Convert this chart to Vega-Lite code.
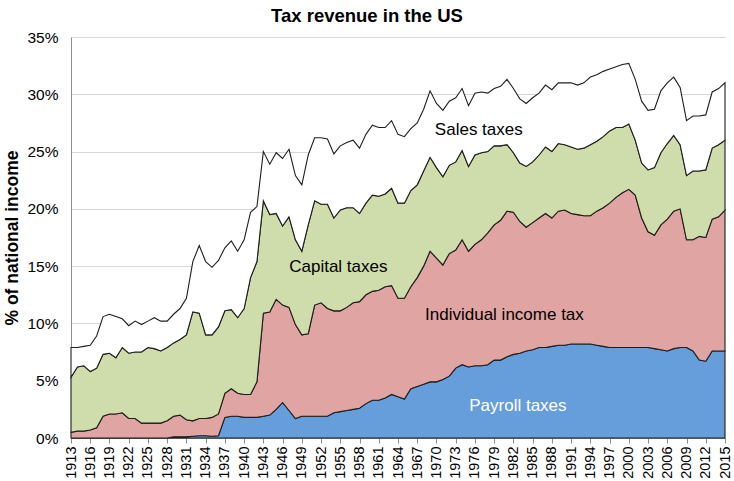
{
  "$schema": "https://vega.github.io/schema/vega-lite/v6.json",
  "width": 654,
  "height": 401,
  "autosize": {"type": "none"},
  "padding": {"left": 71, "top": 37, "right": 9, "bottom": 43},
  "background": "white",
  "config": {
    "view": {"stroke": null},
    "font": "Liberation Sans"
  },
  "title": {
    "text": "Tax revenue in the US",
    "fontSize": 18.5,
    "fontWeight": "bold",
    "font": "Liberation Sans",
    "anchor": "middle",
    "dx": -31,
    "offset": 5,
    "color": "black"
  },
  "datasets": {
    "taxes": [
      {"year":1913,"payroll":0,"income":0.5,"capital":4.8,"sales":2.6},
      {"year":1914,"payroll":0,"income":0.6,"capital":5.6,"sales":1.7},
      {"year":1915,"payroll":0,"income":0.6,"capital":5.7,"sales":1.7},
      {"year":1916,"payroll":0,"income":0.7,"capital":5.1,"sales":2.3},
      {"year":1917,"payroll":0,"income":0.9,"capital":5.2,"sales":2.8},
      {"year":1918,"payroll":0,"income":1.9,"capital":5.4,"sales":3.3},
      {"year":1919,"payroll":0,"income":2.1,"capital":5.3,"sales":3.4},
      {"year":1920,"payroll":0,"income":2.1,"capital":4.9,"sales":3.6},
      {"year":1921,"payroll":0,"income":2.2,"capital":5.7,"sales":2.5},
      {"year":1922,"payroll":0,"income":1.7,"capital":5.7,"sales":2.4},
      {"year":1923,"payroll":0,"income":1.7,"capital":5.8,"sales":2.7},
      {"year":1924,"payroll":0,"income":1.3,"capital":6.2,"sales":2.4},
      {"year":1925,"payroll":0,"income":1.3,"capital":6.6,"sales":2.3},
      {"year":1926,"payroll":0,"income":1.3,"capital":6.5,"sales":2.7},
      {"year":1927,"payroll":0,"income":1.3,"capital":6.3,"sales":2.6},
      {"year":1928,"payroll":0,"income":1.5,"capital":6.4,"sales":2.3},
      {"year":1929,"payroll":0.1,"income":1.8,"capital":6.4,"sales":2.5},
      {"year":1930,"payroll":0.1,"income":1.9,"capital":6.6,"sales":2.7},
      {"year":1931,"payroll":0.1,"income":1.5,"capital":7.4,"sales":3.2},
      {"year":1932,"payroll":0.15,"income":1.35,"capital":9.5,"sales":4.4},
      {"year":1933,"payroll":0.2,"income":1.5,"capital":9.2,"sales":5.9},
      {"year":1934,"payroll":0.2,"income":1.5,"capital":7.3,"sales":6.4},
      {"year":1935,"payroll":0.15,"income":1.65,"capital":7.2,"sales":5.9},
      {"year":1936,"payroll":0.2,"income":1.9,"capital":7.6,"sales":5.8},
      {"year":1937,"payroll":1.8,"income":2.1,"capital":7.2,"sales":5.5},
      {"year":1938,"payroll":1.9,"income":2.4,"capital":6.9,"sales":6.0},
      {"year":1939,"payroll":1.9,"income":2.0,"capital":6.6,"sales":5.8},
      {"year":1940,"payroll":1.8,"income":2.0,"capital":7.5,"sales":6.0},
      {"year":1941,"payroll":1.8,"income":2.0,"capital":10.2,"sales":5.7},
      {"year":1942,"payroll":1.8,"income":3.1,"capital":10.5,"sales":4.8},
      {"year":1943,"payroll":1.9,"income":9.0,"capital":9.8,"sales":4.3},
      {"year":1944,"payroll":2.0,"income":9.0,"capital":8.5,"sales":4.4},
      {"year":1945,"payroll":2.5,"income":9.6,"capital":7.5,"sales":5.3},
      {"year":1946,"payroll":3.1,"income":8.5,"capital":6.9,"sales":5.9},
      {"year":1947,"payroll":2.4,"income":9.0,"capital":7.9,"sales":5.9},
      {"year":1948,"payroll":1.7,"income":8.2,"capital":7.4,"sales":5.6},
      {"year":1949,"payroll":1.9,"income":7.1,"capital":7.3,"sales":5.8},
      {"year":1950,"payroll":1.9,"income":7.2,"capital":9.5,"sales":6.1},
      {"year":1951,"payroll":1.9,"income":9.7,"capital":9.1,"sales":5.5},
      {"year":1952,"payroll":1.9,"income":9.9,"capital":8.6,"sales":5.8},
      {"year":1953,"payroll":1.9,"income":9.4,"capital":9.1,"sales":5.7},
      {"year":1954,"payroll":2.2,"income":8.9,"capital":8.1,"sales":5.6},
      {"year":1955,"payroll":2.3,"income":8.8,"capital":8.8,"sales":5.6},
      {"year":1956,"payroll":2.4,"income":9.0,"capital":8.7,"sales":5.7},
      {"year":1957,"payroll":2.5,"income":9.3,"capital":8.3,"sales":5.9},
      {"year":1958,"payroll":2.6,"income":9.3,"capital":7.7,"sales":5.7},
      {"year":1959,"payroll":3.0,"income":9.5,"capital":8.0,"sales":6.0},
      {"year":1960,"payroll":3.3,"income":9.5,"capital":8.4,"sales":6.1},
      {"year":1961,"payroll":3.3,"income":9.6,"capital":8.2,"sales":6.0},
      {"year":1962,"payroll":3.5,"income":9.7,"capital":8.1,"sales":5.8},
      {"year":1963,"payroll":3.8,"income":9.5,"capital":8.5,"sales":5.9},
      {"year":1964,"payroll":3.6,"income":8.6,"capital":8.3,"sales":6.0},
      {"year":1965,"payroll":3.4,"income":8.8,"capital":8.3,"sales":5.8},
      {"year":1966,"payroll":4.3,"income":8.9,"capital":8.4,"sales":5.4},
      {"year":1967,"payroll":4.5,"income":9.5,"capital":8.1,"sales":5.4},
      {"year":1968,"payroll":4.7,"income":10.3,"capital":8.3,"sales":5.4},
      {"year":1969,"payroll":4.9,"income":11.4,"capital":8.2,"sales":5.8},
      {"year":1970,"payroll":4.9,"income":10.8,"capital":7.9,"sales":5.6},
      {"year":1971,"payroll":5.1,"income":10.0,"capital":7.7,"sales":5.8},
      {"year":1972,"payroll":5.4,"income":10.7,"capital":7.7,"sales":5.6},
      {"year":1973,"payroll":6.1,"income":10.3,"capital":7.7,"sales":5.6},
      {"year":1974,"payroll":6.4,"income":10.9,"capital":7.8,"sales":5.4},
      {"year":1975,"payroll":6.2,"income":10.1,"capital":7.4,"sales":5.3},
      {"year":1976,"payroll":6.3,"income":10.6,"capital":7.8,"sales":5.4},
      {"year":1977,"payroll":6.3,"income":11.0,"capital":7.6,"sales":5.3},
      {"year":1978,"payroll":6.4,"income":11.5,"capital":7.1,"sales":5.1},
      {"year":1979,"payroll":6.8,"income":11.8,"capital":6.9,"sales":5.0},
      {"year":1980,"payroll":6.8,"income":12.2,"capital":6.5,"sales":5.2},
      {"year":1981,"payroll":7.1,"income":12.7,"capital":5.8,"sales":5.7},
      {"year":1982,"payroll":7.3,"income":12.4,"capital":5.2,"sales":5.6},
      {"year":1983,"payroll":7.4,"income":11.5,"capital":5.1,"sales":5.6},
      {"year":1984,"payroll":7.6,"income":10.8,"capital":5.3,"sales":5.5},
      {"year":1985,"payroll":7.7,"income":11.1,"capital":5.3,"sales":5.6},
      {"year":1986,"payroll":7.9,"income":11.3,"capital":5.5,"sales":5.4},
      {"year":1987,"payroll":7.9,"income":11.7,"capital":5.8,"sales":5.4},
      {"year":1988,"payroll":8.0,"income":11.2,"capital":5.8,"sales":5.4},
      {"year":1989,"payroll":8.1,"income":11.7,"capital":5.9,"sales":5.3},
      {"year":1990,"payroll":8.1,"income":11.8,"capital":5.7,"sales":5.4},
      {"year":1991,"payroll":8.2,"income":11.4,"capital":5.8,"sales":5.6},
      {"year":1992,"payroll":8.2,"income":11.3,"capital":5.7,"sales":5.6},
      {"year":1993,"payroll":8.2,"income":11.2,"capital":5.9,"sales":5.7},
      {"year":1994,"payroll":8.2,"income":11.2,"capital":6.2,"sales":5.9},
      {"year":1995,"payroll":8.1,"income":11.7,"capital":6.1,"sales":5.8},
      {"year":1996,"payroll":8.0,"income":12.1,"capital":6.2,"sales":5.7},
      {"year":1997,"payroll":7.9,"income":12.6,"capital":6.3,"sales":5.4},
      {"year":1998,"payroll":7.9,"income":13.1,"capital":6.1,"sales":5.3},
      {"year":1999,"payroll":7.9,"income":13.5,"capital":5.7,"sales":5.5},
      {"year":2000,"payroll":7.9,"income":13.8,"capital":5.7,"sales":5.3},
      {"year":2001,"payroll":7.9,"income":13.3,"capital":4.8,"sales":5.3},
      {"year":2002,"payroll":7.9,"income":11.3,"capital":4.8,"sales":5.4},
      {"year":2003,"payroll":7.9,"income":10.1,"capital":5.4,"sales":5.2},
      {"year":2004,"payroll":7.8,"income":9.9,"capital":5.9,"sales":5.1},
      {"year":2005,"payroll":7.7,"income":10.9,"capital":6.3,"sales":5.4},
      {"year":2006,"payroll":7.6,"income":11.5,"capital":6.6,"sales":5.3},
      {"year":2007,"payroll":7.8,"income":12.0,"capital":6.6,"sales":5.1},
      {"year":2008,"payroll":7.9,"income":12.1,"capital":5.6,"sales":5.0},
      {"year":2009,"payroll":7.9,"income":9.4,"capital":5.6,"sales":4.8},
      {"year":2010,"payroll":7.6,"income":9.7,"capital":6.0,"sales":4.8},
      {"year":2011,"payroll":6.8,"income":10.8,"capital":5.7,"sales":4.8},
      {"year":2012,"payroll":6.7,"income":10.8,"capital":5.9,"sales":4.8},
      {"year":2013,"payroll":7.6,"income":11.5,"capital":6.2,"sales":4.9},
      {"year":2014,"payroll":7.6,"income":11.7,"capital":6.3,"sales":4.9},
      {"year":2015,"payroll":7.6,"income":12.3,"capital":6.1,"sales":5.0}
    ],
    "stackOrder": [
      {"tax":"payroll","rank":1},
      {"tax":"income","rank":2},
      {"tax":"capital","rank":3},
      {"tax":"sales","rank":4}
    ],
    "labels": [
      {"label":"Sales taxes","year":1976.6,"pct":26.9},
      {"label":"Capital taxes","year":1954.7,"pct":14.9},
      {"label":"Individual income tax","year":1980.6,"pct":10.7},
      {"label":"Payroll taxes","year":1982.7,"pct":2.8}
    ]
  },
  "layer": [
    {
      "data": {"name": "taxes"},
      "transform": [
        {"fold": ["payroll","income","capital","sales"], "as": ["tax","pct"]},
        {"lookup": "tax", "from": {"data": {"name": "stackOrder"}, "key": "tax", "fields": ["rank"]}}
      ],
      "mark": {"type": "area", "stroke": "#1e1e1e", "strokeWidth": 1.1, "interpolate": "linear", "opacity": 1},
      "encoding": {
        "x": {
          "field": "year", "type": "quantitative",
          "scale": {"domain": [1913, 2015], "nice": false, "zero": false},
          "axis": {
            "values": [1913,1916,1919,1922,1925,1928,1931,1934,1937,1940,1943,1946,1949,1952,1955,1958,1961,1964,1967,1970,1973,1976,1979,1982,1985,1988,1991,1994,1997,2000,2003,2006,2009,2012,2015],
            "tickCount": 50,
            "format": "d",
            "labelAngle": -90,
            "labelAlign": "right",
            "labelBaseline": "middle",
            "labelFontSize": 14.5,
            "labelColor": "black",
            "labelFont": "Liberation Sans",
            "labelPadding": 3,
            "labelOverlap": false,
            "labelBound": false,
            "labelFlush": false,
            "grid": false,
            "domainColor": "#8c8c8c",
            "tickColor": "#8c8c8c",
            "tickSize": 5,
            "title": null
          }
        },
        "y": {
          "field": "pct", "type": "quantitative", "stack": "zero",
          "scale": {"domain": [0, 35], "nice": false},
          "axis": {
            "values": [0,5,10,15,20,25,30,35],
            "tickCount": 10,
            "labelExpr": "datum.value + '%'",
            "labelFontSize": 15.5,
            "labelColor": "black",
            "labelFont": "Liberation Sans",
            "labelPadding": 13,
            "ticks": false,
            "grid": true,
            "gridColor": "#d6d6d6",
            "domainColor": "#8c8c8c",
            "title": "% of national income",
            "titleFontSize": 17.5,
            "titleFontWeight": "bold",
            "titleFont": "Liberation Sans",
            "titleColor": "black",
            "titlePadding": 5
          }
        },
        "color": {
          "field": "tax", "type": "nominal",
          "scale": {"domain": ["payroll","income","capital","sales"], "range": ["#669DDB","#E0A5A3","#CFDCAB","#FFFFFF"]},
          "legend": null
        },
        "order": {"field": "rank", "type": "quantitative", "sort": "ascending"}
      }
    },
    {
      "data": {"name": "labels"},
      "mark": {"type": "text", "fontSize": 17, "font": "Liberation Sans", "align": "center", "baseline": "middle"},
      "encoding": {
        "x": {"field": "year", "type": "quantitative"},
        "y": {"field": "pct", "type": "quantitative"},
        "text": {"field": "label"},
        "color": {"condition": {"test": "datum.label === 'Payroll taxes'", "value": "white"}, "value": "black"}
      }
    }
  ]
}
